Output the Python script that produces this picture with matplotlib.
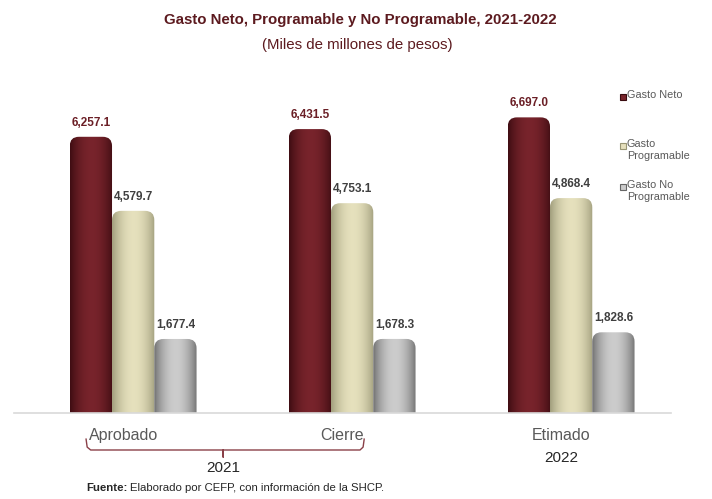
import matplotlib.pyplot as plt
import numpy as np
from matplotlib.patches import FancyBboxPatch, Rectangle
from matplotlib.transforms import blended_transform_factory

plt.rcParams['font.family'] = ['Liberation Sans', 'DejaVu Sans']

# datos (miles de millones de pesos)
categorias = ["Aprobado", "Cierre", "Etimado"]
anios = ["2021", "2022"]
series = ["Gasto Neto", "Gasto\nProgramable", "Gasto No\nProgramable"]
gasto_neto = [6257.1, 6431.5, 6697.0]
gasto_programable = [4579.7, 4753.1, 4868.4]
gasto_no_programable = [1677.4, 1678.3, 1828.6]

valores = [gasto_neto, gasto_programable, gasto_no_programable]
# (color del borde, color del centro) para el efecto cilindro
colores = [((0.22, 0.04, 0.06), (0.47, 0.14, 0.17)),
           ((0.60, 0.59, 0.46), (0.90, 0.88, 0.74)),
           ((0.40, 0.40, 0.40), (0.80, 0.80, 0.80))]
color_label = ["#6b1f26", "#3f3f3f", "#3f3f3f"]
offsets = [-0.149, 0.044, 0.237]
w = 0.193

fig = plt.figure(figsize=(7.12, 4.99), dpi=100)
ax = fig.add_axes([0.0197, 0.1723, 0.9227, 0.6193])
ax.set_xlim(-0.5, 2.5)
ax.set_ylim(0, 7000)

# relacion de aspecto en pixeles para redondear la punta de las barras
px_x = 0.9227 * 712 / 3.0
px_y = 0.6193 * 499 / 7000.0
asp = px_x / px_y
r = 0.042

x = np.arange(len(categorias))
t = np.linspace(0, 1, 64)
perfil = np.clip(np.sin(np.pi * (t * 0.95 + 0.02)) ** 0.8, 0, 1)

for i, vals in enumerate(valores):
    borde, centro = np.array(colores[i][0]), np.array(colores[i][1])
    grad = borde[None, :] + (centro - borde)[None, :] * perfil[:, None]
    bars = ax.bar(x + offsets[i], vals, w, color=colores[i][1], zorder=1)
    for rect, v in zip(bars, vals):
        x0, h = rect.get_x(), rect.get_height()
        rect.set_visible(False)
        caja = FancyBboxPatch((x0, -400), w, h + 400,
                              boxstyle=f"round,pad=0,rounding_size={r}",
                              mutation_aspect=asp, facecolor='none',
                              edgecolor='none', zorder=2)
        ax.add_patch(caja)
        im = ax.imshow(grad[None, :, :], extent=(x0, x0 + w, 0, h),
                       aspect='auto', interpolation='bicubic', zorder=2)
        im.set_clip_path(caja)
        ax.text(x0 + w / 2, h + 180, f"{v:,.1f}", ha='center', va='bottom',
                fontsize=8.5, fontweight='bold', color=color_label[i])

ax.set_xlim(-0.5, 2.5)
ax.set_ylim(0, 7000)
ax.set_xticks(x, categorias)
ax.tick_params(axis='x', length=0, pad=11, labelsize=11.5, labelcolor='#595959')
ax.set_yticks([])
for s in ['top', 'right', 'left']:
    ax.spines[s].set_visible(False)
ax.spines['bottom'].set_color('#d9d9d9')
ax.spines['bottom'].set_linewidth(1.2)

# llave que agrupa 2021
tr = blended_transform_factory(ax.transData, fig.transFigure)
bx = [-0.171, -0.166, -0.150, 0.440, 0.455, 0.455, 0.455, 0.470, 1.080, 1.094, 1.099]
by = [0.120, 0.104, 0.0982, 0.0982, 0.0982, 0.084, 0.0982, 0.0982, 0.0982, 0.104, 0.120]
ax.plot(bx, by, transform=tr, clip_on=False, color='#8a4048', lw=1.0)
ax.text(0.455, 0.062, anios[0], transform=tr, ha='center', va='center',
        fontsize=11, color='#262626')
ax.text(2, 0.082, anios[1], transform=tr, ha='center', va='center',
        fontsize=11, color='#262626')

# titulo
fig.text(0.5056, 0.96, "Gasto Neto, Programable y No Programable, 2021-2022",
         ha='center', va='center', fontsize=10.8, fontweight='bold', color='#5c1a1f')
fig.text(0.502, 0.91, "(Miles de millones de pesos)", ha='center', va='center',
         fontsize=10.8, color='#5c1a1f')

# leyenda
ley_y = [0.8056, 0.7074, 0.6253]
for i, lab in enumerate(series):
    fig.patches.append(Rectangle((0.8706, ley_y[i] - 0.0065), 0.008, 0.013,
                                 transform=fig.transFigure, figure=fig,
                                 facecolor=colores[i][1], edgecolor=colores[i][0], lw=0.8))
    fig.text(0.8806, ley_y[i] + 0.014, lab, ha='left', va='top', fontsize=7.8,
             color='#595959', linespacing=1.2)

# fuente
f1 = fig.text(0.1208, 0.022, "Fuente:", ha='left', va='center', fontsize=8.2,
              fontweight='bold', color='#262626')
fig.canvas.draw()
bb = f1.get_window_extent().transformed(fig.transFigure.inverted())
fig.text(bb.x1 + 0.004, 0.022, "Elaborado por CEFP, con información de la SHCP.",
         ha='left', va='center', fontsize=8.2, color='#262626')

fig.savefig("out.png", dpi=100)
